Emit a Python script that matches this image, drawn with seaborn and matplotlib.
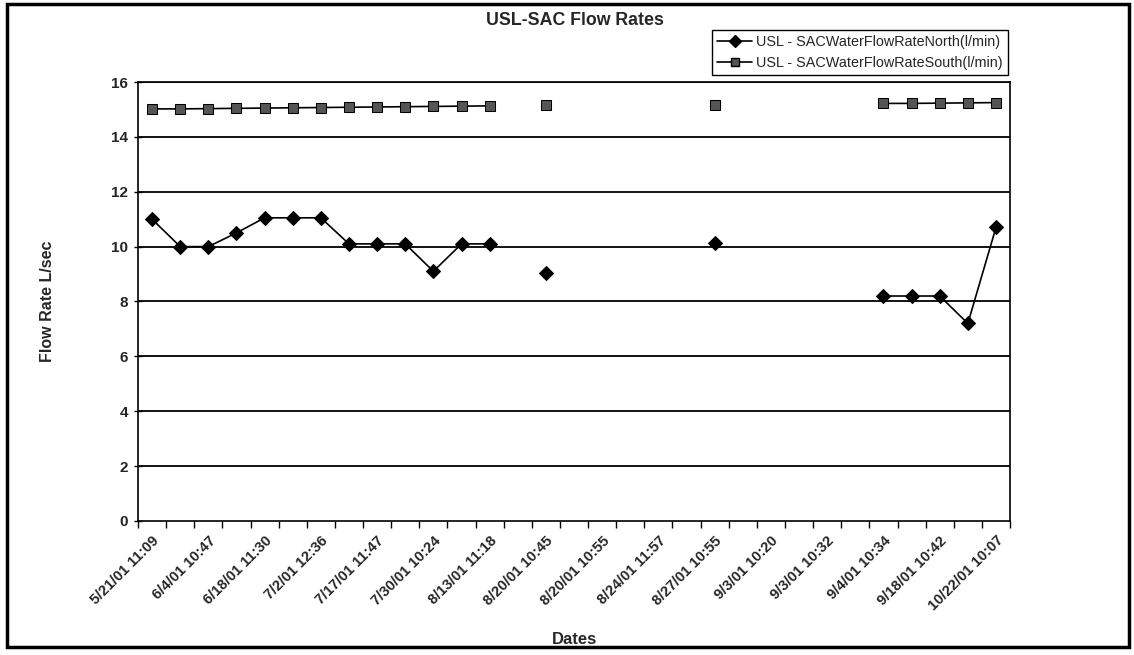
import numpy as np
import pandas as pd
import matplotlib
matplotlib.use("Agg")
import matplotlib.pyplot as plt
import seaborn as sns
from matplotlib.patches import Rectangle
from matplotlib.lines import Line2D
from matplotlib.transforms import ScaledTranslation

# ---- data ----
tick_labels = ["5/21/01 11:09", "6/4/01 10:47", "6/18/01 11:30", "7/2/01 12:36",
               "7/17/01 11:47", "7/30/01 10:24", "8/13/01 11:18", "8/20/01 10:45",
               "8/20/01 10:55", "8/24/01 11:57", "8/27/01 10:55", "9/3/01 10:20",
               "9/3/01 10:32", "9/4/01 10:34", "9/18/01 10:42", "10/22/01 10:07"]
n_categories = 31
north = [11.0, 10.0, 10.0, 10.5, 11.05, 11.05, 11.05, 10.1, 10.1, 10.1, 9.1, 10.1, 10.1,
         None, 9.05, None, None, None, None, None, 10.15, None, None, None, None, None,
         8.2, 8.2, 8.2, 7.2, 10.7]
south = [15.02, 15.02, 15.03, 15.04, 15.05, 15.06, 15.07, 15.08, 15.09, 15.1, 15.11, 15.12, 15.13,
         None, 15.16, None, None, None, None, None, 15.18, None, None, None, None, None,
         15.22, 15.22, 15.23, 15.24, 15.25]
series_names = ["USL - SACWaterFlowRateNorth(l/min)", "USL - SACWaterFlowRateSouth(l/min)"]


def to_df(vals):
    rows = []
    seg = 0
    prev_none = True
    for i, v in enumerate(vals):
        if v is None:
            prev_none = True
            continue
        if prev_none:
            seg += 1
        prev_none = False
        rows.append({"idx": i, "val": v, "seg": seg})
    return pd.DataFrame(rows)


df_n = to_df(north)
df_s = to_df(south)

sns.set_theme(style="white")
plt.rcParams['font.family'] = ['Liberation Sans', 'DejaVu Sans']

fig = plt.figure(figsize=(11.34, 6.55), dpi=100)
ax = fig.add_axes([0.1217, 0.2046, 0.7690, 0.6702])

for y in np.arange(2, 17, 2):
    ax.axhline(y, color="black", lw=1.3, zorder=1)

sns.lineplot(data=df_n, x="idx", y="val", units="seg", estimator=None, ax=ax,
             color="black", lw=1.2, marker="D", markersize=7, markeredgecolor="black",
             markerfacecolor="black", zorder=3, legend=False)
sns.lineplot(data=df_s, x="idx", y="val", units="seg", estimator=None, ax=ax,
             color="black", lw=1.2, marker="s", markersize=6.5, markeredgecolor="black",
             markerfacecolor="#555555", zorder=3, legend=False)

ax.set_xlim(-0.5, n_categories - 0.5)
ax.set_ylim(0, 16)
ax.set_yticks(np.arange(0, 17, 2))
ax.set_yticklabels([str(v) for v in range(0, 17, 2)], fontsize=11, fontweight="bold")
ax.set_xticks(np.arange(0, n_categories, 2))
ax.set_xticklabels(tick_labels, rotation=45, ha="right", rotation_mode="anchor",
                   fontsize=10.6, fontweight="bold")
shift = ScaledTranslation(-7 / 100, 0, fig.dpi_scale_trans)
for lab in ax.get_xticklabels():
    lab.set_transform(lab.get_transform() + shift)
ax.set_xticks(np.arange(-0.5, n_categories, 1), minor=True)
ax.tick_params(axis="x", which="major", length=0, pad=9)
ax.tick_params(axis="x", which="minor", length=5, width=1, color="black", direction="out", bottom=True)
ax.tick_params(axis="y", length=6, width=1, color="black", direction="inout", left=True, pad=4)

for s in ax.spines.values():
    s.set_color("black")
    s.set_linewidth(1.2)

ax.set_xlabel("Dates", fontsize=12, fontweight="bold")
ax.xaxis.set_label_coords(0.50, -0.253)
ax.set_ylabel("Flow Rate L/sec", fontsize=11.5, fontweight="bold")
ax.yaxis.set_label_coords(-0.095, 0.5)

fig.text(0.507, 0.968, "USL-SAC Flow Rates", ha="center", va="center",
         fontsize=12.8, fontweight="bold")

handles = [Line2D([0], [0], color="black", lw=1.2, marker="D", markersize=6.5, markerfacecolor="black"),
           Line2D([0], [0], color="black", lw=1.2, marker="s", markersize=6, markerfacecolor="#555555")]
leg = fig.legend(handles, series_names, loc="upper right", bbox_to_anchor=(0.889, 0.954),
                 fontsize=10.4, frameon=True, fancybox=False, borderaxespad=0,
                 framealpha=1, edgecolor="black",
                 borderpad=0.35, labelspacing=0.5, handlelength=2.4, handletextpad=0.3)
leg.get_frame().set_linewidth(1.0)

fig.patches.append(Rectangle((0.006, 0.012), 0.99, 0.982, transform=fig.transFigure,
                             fill=False, edgecolor="black", lw=2.5))

fig.savefig("out.png", dpi=100)
